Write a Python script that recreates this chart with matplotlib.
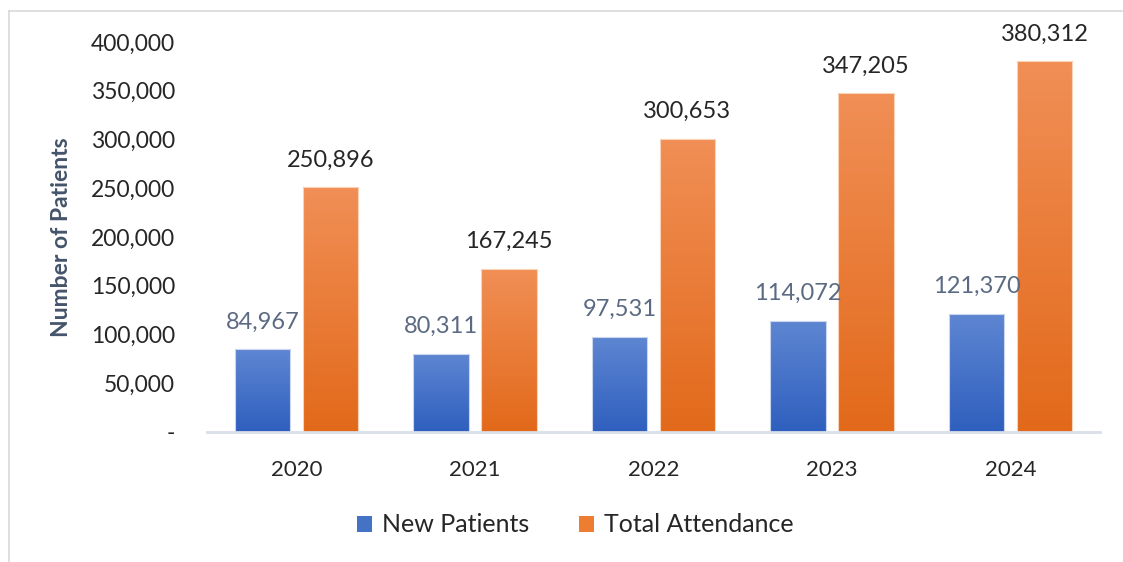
import matplotlib
matplotlib.use("Agg")
import matplotlib.pyplot as plt
import numpy as np
from matplotlib.colors import LinearSegmentedColormap
from matplotlib.lines import Line2D
from matplotlib.patches import Patch

years = ["2020", "2021", "2022", "2023", "2024"]
new_patients = [84967, 80311, 97531, 114072, 121370]
total_attendance = [250896, 167245, 300653, 347205, 380312]
series_names = ["New Patients", "Total Attendance"]
yticks = [0, 50000, 100000, 150000, 200000, 250000, 300000, 350000, 400000]

plt.rcParams['font.family'] = ['Lato', 'DejaVu Sans']

fig = plt.figure(figsize=(11.23, 5.62), dpi=100)
ax = fig.add_axes([207/1123, 130/562, 893/1123, 390/562])

x = np.arange(len(years))
w = 0.31
off = 0.19
b1 = ax.bar(x - off, new_patients, w, color='#4472C4', edgecolor='#C9D6EE', linewidth=0.8, zorder=2)
b2 = ax.bar(x + off, total_attendance, w, color='#ED7D31', edgecolor='#F8D3B8', linewidth=0.8, zorder=2)

cm_blue = LinearSegmentedColormap.from_list('b', ['#2F5FBE', '#5E86D2'])
cm_orng = LinearSegmentedColormap.from_list('o', ['#E2691A', '#F18F56'])
grad = np.linspace(0, 1, 256).reshape(-1, 1)
for bars, cm in ((b1, cm_blue), (b2, cm_orng)):
    for p in bars:
        x0, y0, ww, hh = p.get_x(), p.get_y(), p.get_width(), p.get_height()
        im = ax.imshow(grad, cmap=cm, origin='lower', aspect='auto',
                       extent=[x0, x0 + ww, y0, y0 + hh], zorder=2.5)
        im.set_clip_path(p)
        p.set_facecolor('none')
        p.set_zorder(3)

ax.set_xlim(-0.5, len(years) - 0.5)
ax.set_ylim(0, 400000)
ax.set_yticks(yticks)
ax.set_yticklabels(['-' if v == 0 else f"{v:,}" for v in yticks])
ax.set_xticks(x)
ax.set_xticklabels(years)
ax.tick_params(axis='y', length=0, pad=23, labelsize=16.5, labelcolor='#262626')
ax.tick_params(axis='x', length=0, pad=20, labelsize=16, labelcolor='#262626')
for s in ['top', 'right', 'left']:
    ax.spines[s].set_visible(False)
ax.spines['bottom'].set_color('#D9DEE8')
ax.spines['bottom'].set_linewidth(2)
ax.spines['bottom'].set_zorder(4)

for i, v in enumerate(new_patients):
    ax.annotate(f"{v:,}", (x[i] - off, v), xytext=(0, 12), textcoords='offset points',
                ha='center', va='bottom', fontsize=17, color='#5B6A82', clip_on=False, zorder=5)
for i, v in enumerate(total_attendance):
    ax.annotate(f"{v:,}", (x[i] + off, v), xytext=(0, 12), textcoords='offset points',
                ha='center', va='bottom', fontsize=17, color='#262626', clip_on=False, zorder=5)

fig.text(62/1123, 1 - 237/562, "Number of Patients", rotation=90, ha='center', va='center',
         fontsize=16.5, fontweight='bold', color='#44546A')

handles = [Patch(facecolor='#4472C4', edgecolor='none'), Patch(facecolor='#ED7D31', edgecolor='none')]
fig.legend(handles, series_names, loc='center', bbox_to_anchor=(575/1123, 1 - 525/562),
           ncol=2, frameon=False, fontsize=18, handlelength=0.6, handleheight=0.6,
           handletextpad=0.4, columnspacing=2.0, labelcolor='#262626')

fig.add_artist(Line2D([9/1123, 1], [1 - 11/562, 1 - 11/562], transform=fig.transFigure, color='#D9D9D9', lw=1.2))
fig.add_artist(Line2D([9/1123, 9/1123], [0, 1 - 11/562], transform=fig.transFigure, color='#D9D9D9', lw=1.2))

fig.savefig('out.png', dpi=100, facecolor='white')
